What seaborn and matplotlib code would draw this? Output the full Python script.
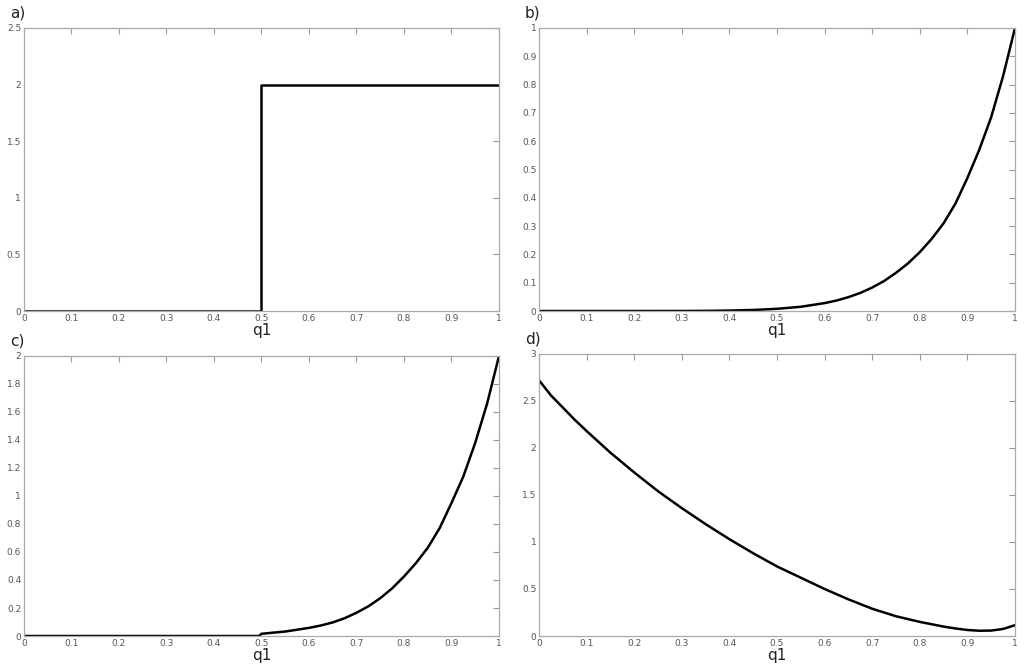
import numpy as np
import pandas as pd
import matplotlib
matplotlib.use("Agg")
import matplotlib.pyplot as plt
import seaborn as sns
from matplotlib.ticker import FuncFormatter

# valores
q_a = [0.0, 0.5, 0.5, 1.0]
y_a = [0.0, 0.0, 2.0, 2.0]

q_b = [0.0, 0.1, 0.2, 0.3, 0.35, 0.4, 0.45, 0.5, 0.55, 0.6, 0.625, 0.65,
       0.675, 0.7, 0.725, 0.75, 0.775, 0.8, 0.825, 0.85, 0.875, 0.9, 0.925,
       0.95, 0.975, 1.0]
y_b = [0.0, 0.0, 0.0, 0.0002, 0.0006, 0.0016, 0.0037, 0.0078, 0.015, 0.028,
       0.037, 0.049, 0.064, 0.083, 0.106, 0.135, 0.168, 0.208, 0.255, 0.31,
       0.38, 0.47, 0.57, 0.685, 0.83, 1.0]

q_c = [0.0, 0.1, 0.2, 0.3, 0.4, 0.495, 0.5, 0.55, 0.6, 0.625, 0.65, 0.675,
       0.7, 0.725, 0.75, 0.775, 0.8, 0.825, 0.85, 0.875, 0.9, 0.925, 0.95,
       0.975, 1.0]
y_c = [0.0, 0.0, 0.0, 0.0, 0.0, 0.0, 0.016, 0.032, 0.058, 0.075, 0.097,
       0.127, 0.166, 0.212, 0.27, 0.34, 0.425, 0.52, 0.63, 0.77, 0.95, 1.14,
       1.38, 1.66, 2.0]

q_d = [0.0, 0.025, 0.05, 0.075, 0.1, 0.15, 0.2, 0.25, 0.3, 0.35, 0.4, 0.45,
       0.5, 0.55, 0.6, 0.65, 0.7, 0.75, 0.8, 0.85, 0.875, 0.9, 0.925, 0.95,
       0.975, 1.0]
y_d = [2.72, 2.56, 2.43, 2.30, 2.18, 1.95, 1.74, 1.54, 1.36, 1.19, 1.03,
       0.88, 0.74, 0.62, 0.5, 0.39, 0.29, 0.21, 0.15, 0.10, 0.08, 0.064,
       0.056, 0.058, 0.075, 0.115]

x_ticks = [0, 0.1, 0.2, 0.3, 0.4, 0.5, 0.6, 0.7, 0.8, 0.9, 1]
paneles = [
    ("a)", q_a, y_a, 2.5, [0, 0.5, 1, 1.5, 2, 2.5]),
    ("b)", q_b, y_b, 1.0, [0, 0.1, 0.2, 0.3, 0.4, 0.5, 0.6, 0.7, 0.8, 0.9, 1]),
    ("c)", q_c, y_c, 2.0, [0, 0.2, 0.4, 0.6, 0.8, 1, 1.2, 1.4, 1.6, 1.8, 2]),
    ("d)", q_d, y_d, 3.0, [0, 0.5, 1, 1.5, 2, 2.5, 3]),
]

sns.set_style("white")
plt.rcParams["font.family"] = ["DejaVu Sans"]

fig = plt.figure(figsize=(10.24, 6.68), dpi=100)
posiciones = [
    [0.0234, 0.5344, 0.4639, 0.4237],
    [0.5264, 0.5344, 0.4648, 0.4237],
    [0.0234, 0.0479, 0.4639, 0.4192],
    [0.5264, 0.0479, 0.4648, 0.4222],
]

fmt = FuncFormatter(lambda v, pos: f"{v:g}")

for (etiqueta, q, y, ymax, yt), pos in zip(paneles, posiciones):
    ax = fig.add_axes(pos)
    df = pd.DataFrame({"q1": q, "valor": y})
    sns.lineplot(data=df, x="q1", y="valor", ax=ax, color="black",
                 linewidth=1.8, estimator=None, sort=False)
    ax.set_xlim(0, 1)
    ax.set_ylim(0, ymax)
    ax.set_xticks(x_ticks)
    ax.set_yticks(yt)
    ax.xaxis.set_major_formatter(fmt)
    ax.yaxis.set_major_formatter(fmt)
    ax.tick_params(direction="in", length=4, width=0.8, color="#999999",
                   labelsize=6.5, labelcolor="#555555", pad=2,
                   top=True, right=True)
    for s in ax.spines.values():
        s.set_color("#aaaaaa")
        s.set_linewidth(0.9)
    ax.set_xlabel("q1", fontsize=11, labelpad=0, color="#222222")
    ax.set_ylabel("")
    ax.text(-0.03, 1.025, etiqueta, transform=ax.transAxes, fontsize=11,
            ha="left", va="bottom", color="#222222")

fig.savefig("out.png", dpi=100)
